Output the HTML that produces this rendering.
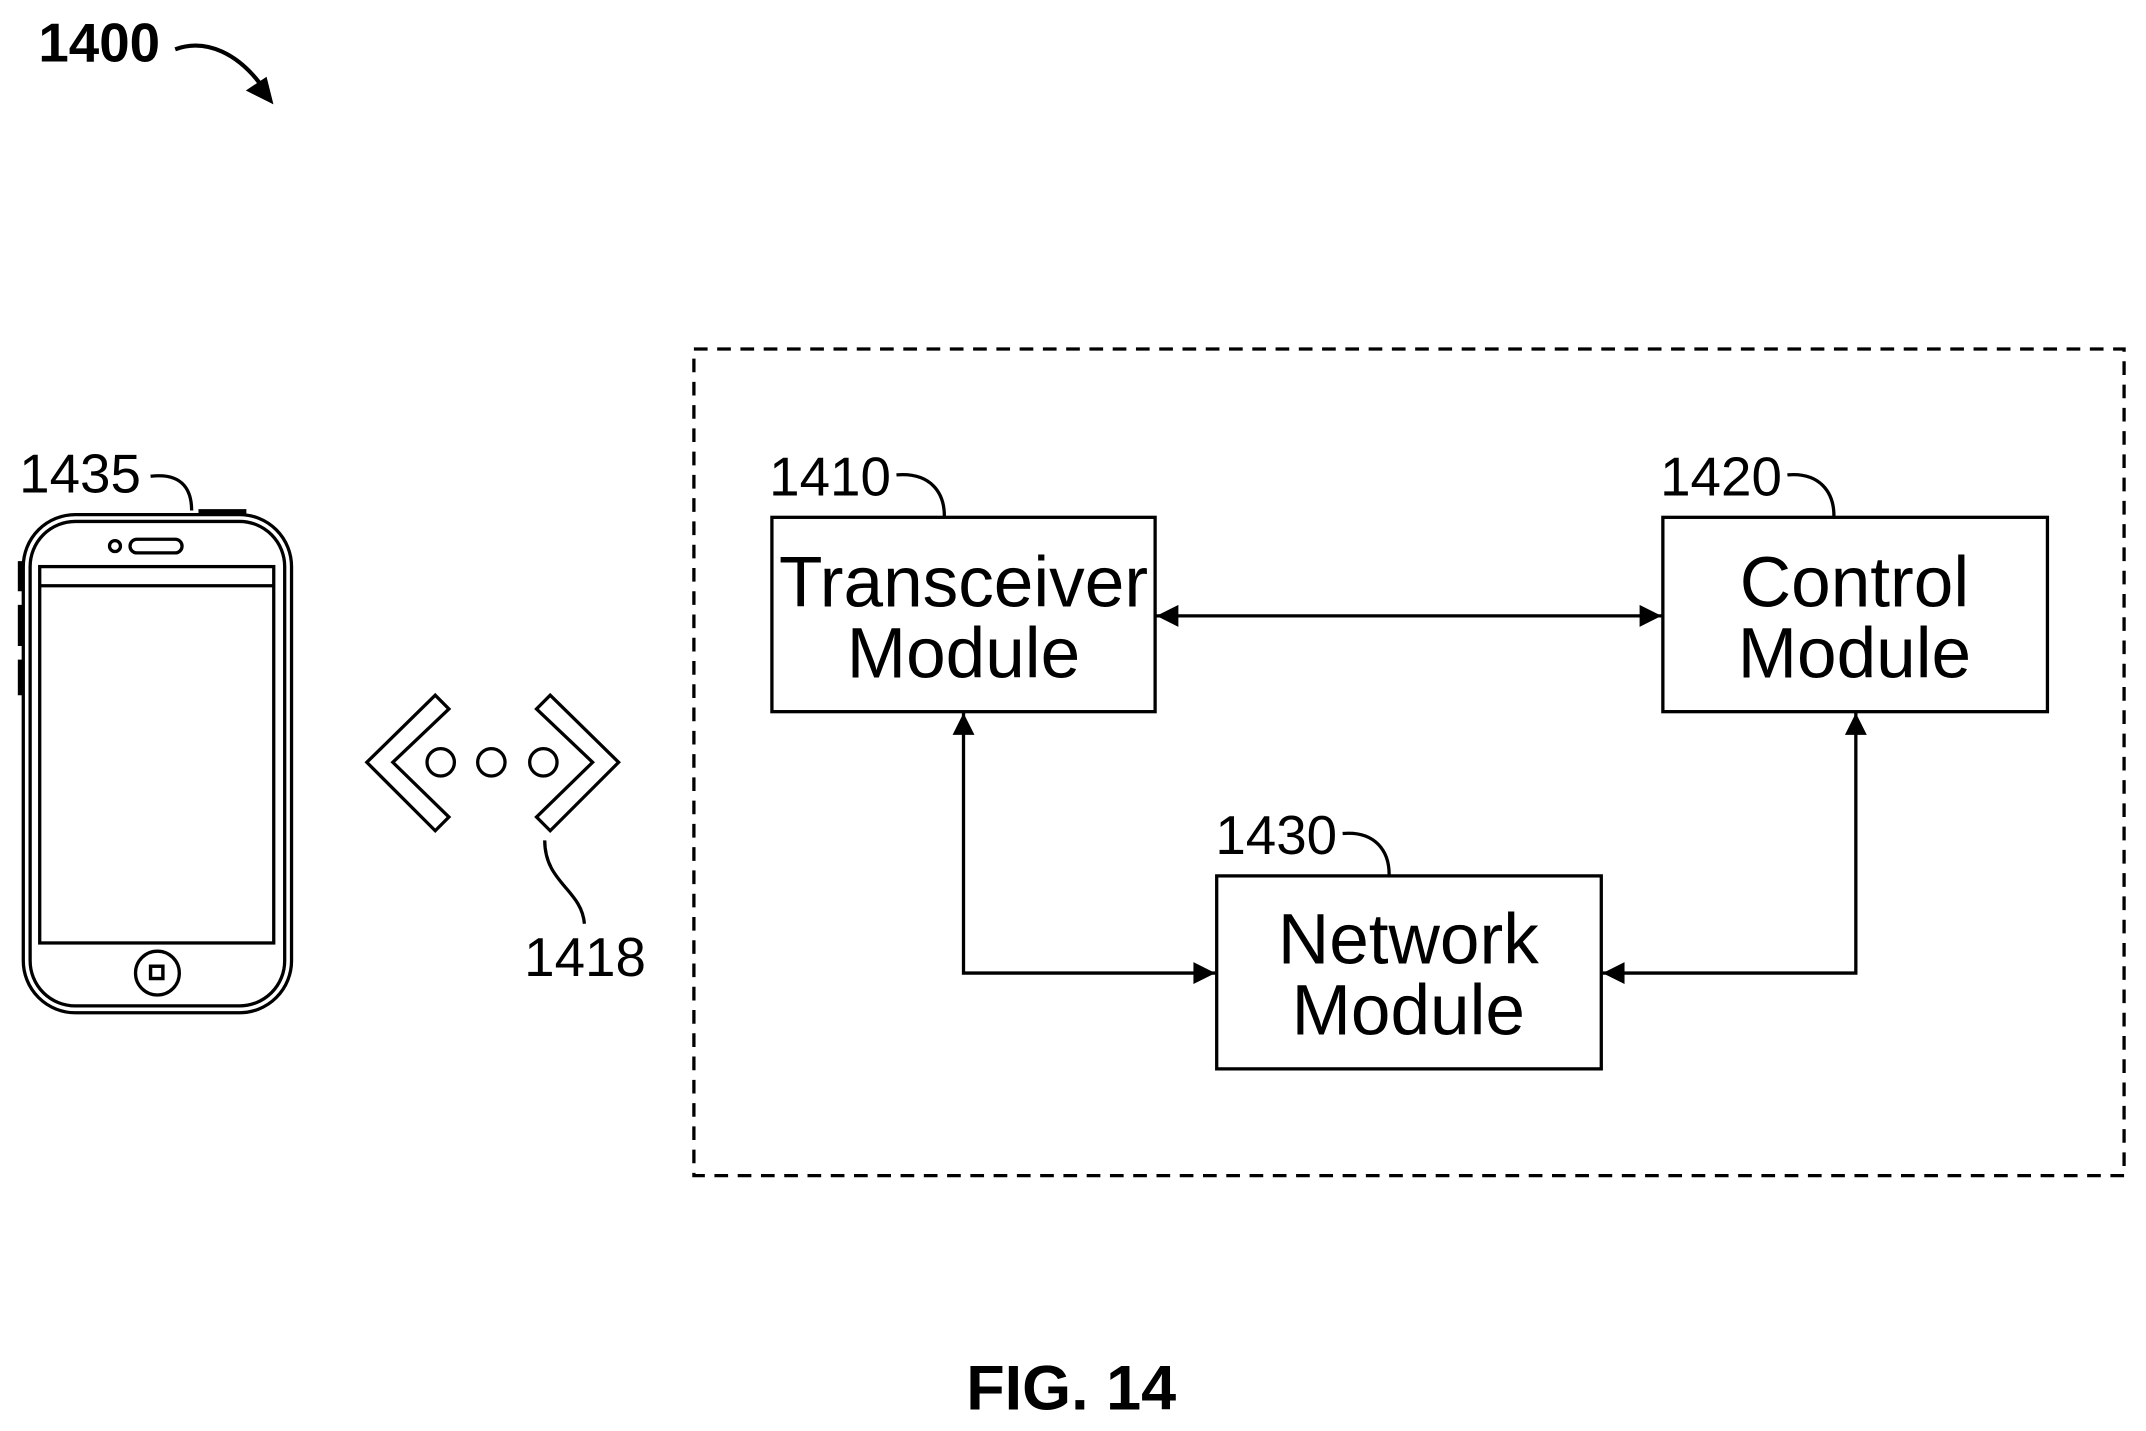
<!DOCTYPE html>
<html><head><style>html,body{margin:0;padding:0;background:#fff}svg{display:block}</style></head><body>
<svg width="2146" height="1431" viewBox="0 0 1568 1045.6" xmlns="http://www.w3.org/2000/svg" font-family="Liberation Sans, sans-serif">
<defs><marker id="a" viewBox="0 0 10 10" refX="10" refY="5" markerWidth="22" markerHeight="16" markerUnits="userSpaceOnUse" orient="auto-start-reverse"><path d="M0,0 L10,5 L0,10 z" fill="#000"/></marker></defs>
<g fill="none" stroke="#000" stroke-width="2.4">
<text x="28" y="45" font-size="40" font-weight="bold" fill="#000" stroke="none">1400</text>
<path d="M128,36 C150,28 175,38 195,68" stroke-width="3"/>
<path d="M198,74 L182,66 L194,58 z" fill="#000"/>
<!-- phone -->
<rect x="17" y="376" width="196" height="364" rx="38"/>
<rect x="22" y="381" width="186" height="354" rx="33"/>
<rect x="29" y="414" width="171" height="275"/>
<line x1="29" y1="428" x2="200" y2="428"/>
<circle cx="84" cy="399" r="4"/>
<rect x="95" y="394" width="38" height="10" rx="5"/>
<circle cx="115" cy="711" r="16"/>
<rect x="110" y="706" width="9" height="9" stroke-width="2.5"/>
<path d="M15,410 v22 M15,442 v30 M15,482 v26 M145,374 h35" stroke-width="4"/>
<path d="M110,348 C135,345 140,360 140,373"/>
<text x="14" y="360" font-size="40" fill="#000" stroke="none">1435</text>
<!-- chevrons -->
<polygon points="268,557 318,508 328,518 287,557 328,597 318,607"/>
<polygon points="452,557 402,508 392,518 433,557 392,597 402,607"/>
<circle cx="322" cy="557" r="10"/><circle cx="359" cy="557" r="10"/><circle cx="397" cy="557" r="10"/>
<path d="M398,614 C398,645 425,650 427,675"/>
<text x="383" y="713" font-size="40" fill="#000" stroke="none">1418</text>
<!-- dashed box -->
<rect x="507" y="255" width="1045" height="604" stroke-dasharray="10,7"/>
<rect x="564" y="378" width="280" height="142"/>
<rect x="1215" y="378" width="281" height="142"/>
<rect x="889" y="640" width="281" height="141"/>
<path d="M655,347 C680,345 690,360 690,377"/>
<path d="M1306,347 C1330,345 1340,360 1340,377"/>
<path d="M981,609 C1005,607 1015,622 1015,639"/>
<text x="562" y="362" font-size="40" fill="#000" stroke="none">1410</text>
<text x="1213" y="362" font-size="40" fill="#000" stroke="none">1420</text>
<text x="888" y="624" font-size="40" fill="#000" stroke="none">1430</text>
<g font-size="52" fill="#000" stroke="none" text-anchor="middle">
<text x="704" y="443">Transceiver</text><text x="704" y="495">Module</text>
<text x="1355" y="443">Control</text><text x="1355" y="495">Module</text>
<text x="1029" y="704">Network</text><text x="1029" y="756">Module</text>
</g>
<line x1="845" y1="450" x2="1214" y2="450" marker-start="url(#a)" marker-end="url(#a)"/>
<path d="M704,521 V711 H888" marker-start="url(#a)" marker-end="url(#a)"/>
<path d="M1171,711 H1356 V521" marker-start="url(#a)" marker-end="url(#a)"/>
<text x="706" y="1030" font-size="46" font-weight="bold" fill="#000" stroke="none">FIG. 14</text>
</g>
</svg>
</body></html>
